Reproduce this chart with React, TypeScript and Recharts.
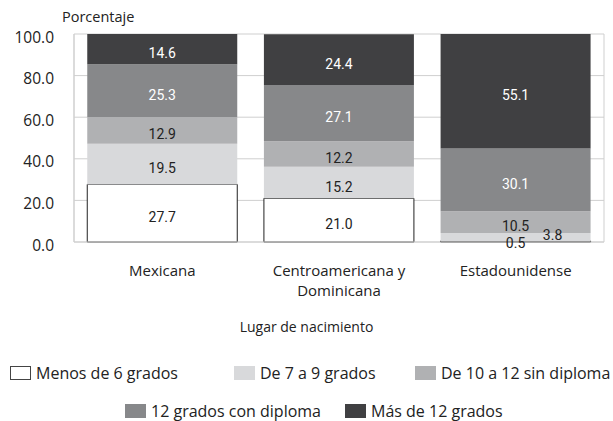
import { BarChart, Bar, XAxis, YAxis, CartesianGrid, LabelList, Text } from 'recharts';

const categories = ['Mexicana', 'Centroamericana y Dominicana', 'Estadounidense'];
const menos6 = [27.7, 21.0, 0.5];
const de7a9 = [19.5, 15.2, 3.8];
const de10a12 = [12.9, 12.2, 10.5];
const con12 = [25.3, 27.1, 30.1];
const mas12 = [14.6, 24.4, 55.1];
const yTicks = [0, 20, 40, 60, 80, 100];

const series = [
  { key: 'menos6', name: 'Menos de 6 grados', fill: '#ffffff', stroke: '#222222', text: '#222' },
  { key: 'de7a9', name: 'De 7 a 9 grados', fill: '#d8d9db', stroke: 'none', text: '#222' },
  { key: 'de10a12', name: 'De 10 a 12 sin diploma', fill: '#b0b1b3', stroke: 'none', text: '#222' },
  { key: 'con12', name: '12 grados con diploma', fill: '#87888a', stroke: 'none', text: '#fff' },
  { key: 'mas12', name: 'Más de 12 grados', fill: '#404042', stroke: 'none', text: '#fff' },
];

const data = categories.map((name, i) => ({
  name,
  menos6: menos6[i],
  de7a9: de7a9[i],
  de10a12: de10a12[i],
  con12: con12[i],
  mas12: mas12[i],
}));

const FONT = '"Open Sans", sans-serif';

// small segments in the last bar get their labels moved off the bar
const labelFor = (key: string, color: string) => (props: any) => {
  const { x, y, width, height, value, index } = props;
  let cx = x + width / 2;
  let cy = y + height / 2 + 4;
  if (index === 2 && key === 'menos6') cy = y + height / 2 + 2;
  if (index === 2 && key === 'de7a9') {
    cx += 37;
    cy = y + height / 2 - 2;
  }
  const onBar = !(index === 2 && (key === 'menos6' || key === 'de7a9'));
  return (
    <text
      x={cx}
      y={cy}
      textAnchor="middle"
      dominantBaseline="central"
      fill={onBar ? color : '#222'}
      fontSize={14}
      fontFamily="Roboto, sans-serif"
    >
      {Number(value).toFixed(1)}
    </text>
  );
};

const CategoryTick = (props: any) => {
  const { x, y, payload } = props;
  return (
    <Text
      x={x}
      y={y + 15}
      width={170}
      textAnchor="middle"
      verticalAnchor="start"
      fontSize={15}
      fontFamily={FONT}
      fill="#222"
      lineHeight={20}
    >
      {payload.value}
    </Text>
  );
};

const legendRows = [
  [
    { s: series[0], x: 10 },
    { s: series[1], x: 234 },
    { s: series[2], x: 415 },
  ],
  [
    { s: series[3], x: 125 },
    { s: series[4], x: 345 },
  ],
];
const legendY = [373, 411];

export default function App() {
  return (
    <div style={{ position: 'absolute', left: 0, top: 0, width: 613, height: 421, background: '#fff', overflow: 'hidden' }}>
      <BarChart
        width={613}
        height={421}
        data={data}
        margin={{ top: 34, right: 9, bottom: 119, left: 0 }}
        barCategoryGap="7.5%"
      >
        <CartesianGrid
          stroke="#cfcfcf"
          verticalCoordinatesGenerator={({ offset }: any) => [offset.left, offset.left + offset.width]}
        />
        <XAxis
          dataKey="name"
          height={60}
          axisLine={{ stroke: '#cfcfcf' }}
          tickLine={false}
          tick={<CategoryTick />}
          interval={0}
        />
        <YAxis
          width={74}
          domain={[0, 100]}
          ticks={yTicks}
          tickFormatter={(v: number) => v.toFixed(1)}
          axisLine={{ stroke: '#cfcfcf' }}
          tickLine={false}
          tick={{ fontSize: 15.5, fontFamily: FONT, fill: '#222', dy: 3 }}
          tickMargin={14}
        />
        {series.map((s) => (
          <Bar
            key={s.key}
            dataKey={s.key}
            stackId="a"
            fill={s.fill}
            stroke={s.stroke}
            strokeWidth={s.stroke === 'none' ? 0 : 1}
            isAnimationActive={false}
          >
            <LabelList dataKey={s.key} content={labelFor(s.key, s.text)} />
          </Bar>
        ))}
      </BarChart>
      <div style={{ position: 'absolute', left: 62, top: 8, fontSize: 14.5, lineHeight: '18px', fontFamily: FONT, color: '#222' }}>
        Porcentaje
      </div>
      <div
        style={{ position: 'absolute', left: 0, width: 613, top: 318, lineHeight: '18px', textAlign: 'center', fontSize: 14, fontFamily: FONT, color: '#222' }}
      >
        Lugar de nacimiento
      </div>
      {legendRows.map((row, r) =>
        row.map(({ s, x }) => (
          <div
            key={s.key}
            style={{
              position: 'absolute',
              left: x,
              top: legendY[r] - 9,
              height: 18,
              lineHeight: '18px',
              display: 'flex',
              alignItems: 'center',
              whiteSpace: 'nowrap',
              fontSize: 16,
              fontFamily: FONT,
              color: '#222',
            }}
          >
            <span
              style={{
                display: 'inline-block',
                width: 21,
                height: 14,
                boxSizing: 'border-box',
                background: s.fill,
                border: s.stroke === 'none' ? 'none' : '1px solid #444',
                marginRight: 5,
              }}
            />
            {s.name}
          </div>
        ))
      )}
    </div>
  );
}
